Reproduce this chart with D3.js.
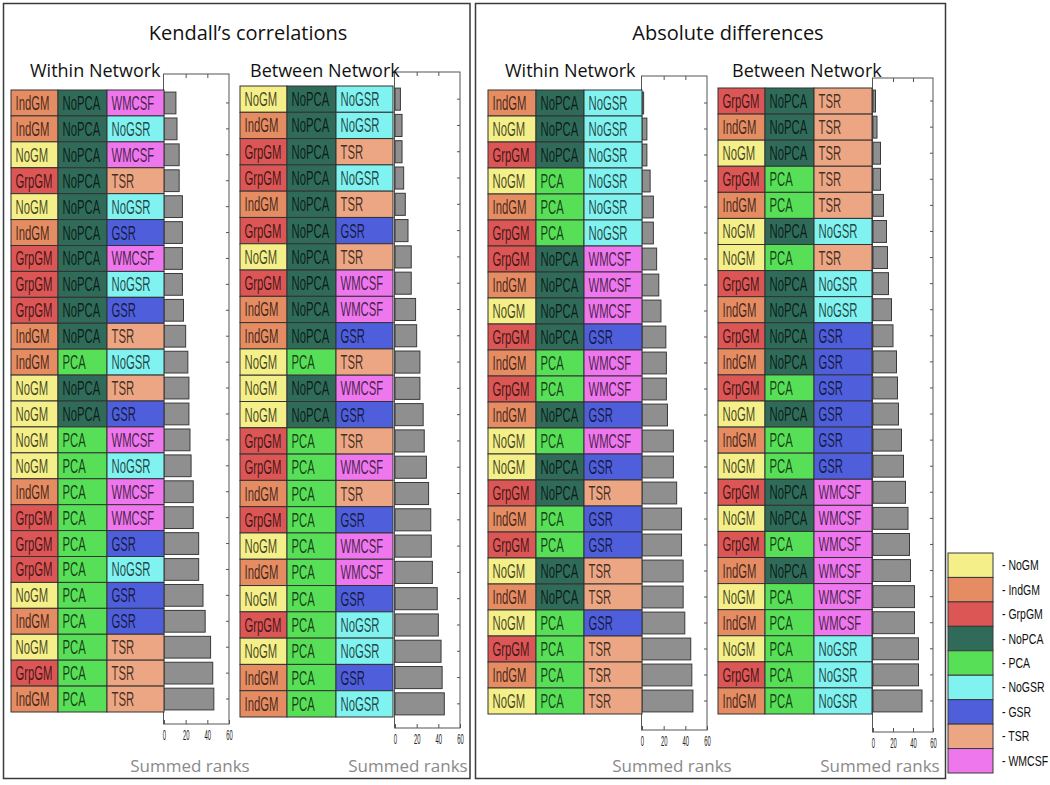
<!DOCTYPE html>
<html><head><meta charset="utf-8">
<script src="https://cdn.jsdelivr.net/npm/d3@7"></script>
<style>body{margin:0;background:#fff}svg{display:block}</style>
</head><body>
<svg id="c" width="1050" height="785"></svg>
<script>
// ---------- DATA ----------
const legendLabels = ["NoGM","IndGM","GrpGM","NoPCA","PCA","NoGSR","GSR","TSR","WMCSF"];
const legendColors = ["#f4ef88","#e68c63","#dc5656","#2f6b58","#58df58","#80f2f0","#4f5fdc","#eca683","#ee77ee"];
const xTicks = [0,20,40,60];

// Kendall's correlations – Within Network
const kcWithinGM  = ["IndGM","IndGM","NoGM","GrpGM","NoGM","IndGM","GrpGM","GrpGM","GrpGM","IndGM","IndGM","NoGM","NoGM","NoGM","NoGM","IndGM","GrpGM","GrpGM","GrpGM","NoGM","IndGM","NoGM","GrpGM","IndGM"];
const kcWithinPCA = ["NoPCA","NoPCA","NoPCA","NoPCA","NoPCA","NoPCA","NoPCA","NoPCA","NoPCA","NoPCA","PCA","NoPCA","NoPCA","PCA","PCA","PCA","PCA","PCA","PCA","PCA","PCA","PCA","PCA","PCA"];
const kcWithinGSR = ["WMCSF","NoGSR","WMCSF","TSR","NoGSR","GSR","WMCSF","NoGSR","GSR","TSR","NoGSR","TSR","GSR","WMCSF","NoGSR","WMCSF","WMCSF","GSR","NoGSR","GSR","GSR","TSR","TSR","TSR"];
const kcWithinRanks = [11,12,14,14,17,17,17,17,18,20,22,23,23,24,25,27,27,32,32,36,38,43,45,46];

// Kendall's correlations – Between Network
const kcBetweenGM  = ["NoGM","IndGM","GrpGM","GrpGM","IndGM","GrpGM","NoGM","GrpGM","IndGM","IndGM","NoGM","NoGM","NoGM","GrpGM","GrpGM","IndGM","GrpGM","NoGM","IndGM","NoGM","GrpGM","NoGM","IndGM","IndGM"];
const kcBetweenPCA = ["NoPCA","NoPCA","NoPCA","NoPCA","NoPCA","NoPCA","NoPCA","NoPCA","NoPCA","NoPCA","PCA","NoPCA","NoPCA","PCA","PCA","PCA","PCA","PCA","PCA","PCA","PCA","PCA","PCA","PCA"];
const kcBetweenGSR = ["NoGSR","NoGSR","TSR","NoGSR","TSR","GSR","TSR","WMCSF","WMCSF","GSR","TSR","WMCSF","GSR","TSR","WMCSF","TSR","GSR","WMCSF","WMCSF","GSR","NoGSR","NoGSR","GSR","NoGSR"];
const kcBetweenRanks = [5,6.5,6.5,8,9.5,12,15,15,19,20,23,23,26,27,29,31,33,33.5,34.5,39,40,42.5,43.5,45.5];

// Absolute differences – Within Network
const adWithinGM  = ["IndGM","NoGM","GrpGM","NoGM","IndGM","GrpGM","GrpGM","IndGM","NoGM","GrpGM","IndGM","GrpGM","IndGM","NoGM","NoGM","GrpGM","IndGM","GrpGM","NoGM","IndGM","NoGM","GrpGM","IndGM","NoGM"];
const adWithinPCA = ["NoPCA","NoPCA","NoPCA","PCA","PCA","PCA","NoPCA","NoPCA","NoPCA","NoPCA","PCA","PCA","NoPCA","PCA","NoPCA","NoPCA","PCA","PCA","NoPCA","NoPCA","PCA","PCA","PCA","PCA"];
const adWithinGSR = ["NoGSR","NoGSR","NoGSR","NoGSR","NoGSR","NoGSR","WMCSF","WMCSF","WMCSF","GSR","WMCSF","WMCSF","GSR","WMCSF","GSR","TSR","GSR","GSR","TSR","TSR","GSR","TSR","TSR","TSR"];
const adWithinRanks = [1.5,4.5,4.5,7.5,10.5,10.5,13.5,15.5,17.5,22,22.5,22.5,23.5,29,29,32,36.5,36.5,38,38,39.5,45,46,47];

// Absolute differences – Between Network
const adBetweenGM  = ["GrpGM","IndGM","NoGM","GrpGM","IndGM","NoGM","NoGM","GrpGM","IndGM","GrpGM","IndGM","GrpGM","NoGM","IndGM","NoGM","GrpGM","NoGM","GrpGM","IndGM","NoGM","IndGM","NoGM","GrpGM","IndGM"];
const adBetweenPCA = ["NoPCA","NoPCA","NoPCA","PCA","PCA","NoPCA","PCA","NoPCA","NoPCA","NoPCA","NoPCA","PCA","NoPCA","PCA","PCA","NoPCA","NoPCA","PCA","NoPCA","PCA","PCA","PCA","PCA","PCA"];
const adBetweenGSR = ["TSR","TSR","TSR","TSR","TSR","NoGSR","TSR","NoGSR","NoGSR","GSR","GSR","GSR","GSR","GSR","GSR","WMCSF","WMCSF","WMCSF","WMCSF","WMCSF","WMCSF","NoGSR","NoGSR","NoGSR"];
const adBetweenRanks = [2.5,4,7.5,7.5,10.5,13.5,14.5,15.5,18.5,20,23.5,24.5,25.5,28.5,30.5,32.5,35,36.5,37.5,41.5,41.5,45.5,45.5,49];

// ---------- LAYOUT ----------
const svg = d3.select("#c");
const color = d3.scaleOrdinal().domain(legendLabels).range(legendColors);

const groups = [
  {title:"Kendall\u2019s correlations", cx:248, box:[3.5,3.5,466.5,775]},
  {title:"Absolute differences", cx:728, box:[475.5,3.5,470,775]}
];
groups.forEach(g=>{
  svg.append("rect").attr("x",g.box[0]).attr("y",g.box[1]).attr("width",g.box[2]).attr("height",g.box[3])
    .attr("fill","none").attr("stroke","#3a3a3a").attr("stroke-width",1.5);
  svg.append("text").attr("x",g.cx).attr("y",40).attr("text-anchor","middle")
    .attr("font-family","Open Sans").attr("font-size",20).attr("fill","#111").text(g.title);
});

const panels = [
  {gm:kcWithinGM, pca:kcWithinPCA, gsr:kcWithinGSR, ranks:kcWithinRanks, head:"Within Network", headX:30,
   cols:[11,58,107,164], rowTop:90, rowBottom:712, xr:[164,229], boxTop:74, boxBottom:724, labelCx:190},
  {gm:kcBetweenGM, pca:kcBetweenPCA, gsr:kcBetweenGSR, ranks:kcBetweenRanks, head:"Between Network", headX:250,
   cols:[240,287,336,393], rowTop:86, rowBottom:717, xr:[395,460], boxTop:72, boxBottom:728, labelCx:408},
  {gm:adWithinGM, pca:adWithinPCA, gsr:adWithinGSR, ranks:adWithinRanks, head:"Within Network", headX:505,
   cols:[488,536,584,642], rowTop:90, rowBottom:714, xr:[642,707], boxTop:76, boxBottom:730, labelCx:672},
  {gm:adBetweenGM, pca:adBetweenPCA, gsr:adBetweenGSR, ranks:adBetweenRanks, head:"Between Network", headX:732,
   cols:[718,765,814,872], rowTop:88, rowBottom:714, xr:[873,933], boxTop:78, boxBottom:732, labelCx:880}
];

panels.forEach(p=>{
  const n = p.ranks.length;
  const x = d3.scaleLinear().domain([0,60]).range(p.xr);
  const y = d3.scaleBand().domain(d3.range(n)).range([p.rowTop,p.rowBottom]);
  const yb = d3.scaleBand().domain(d3.range(n)).range([p.rowTop,p.rowBottom]).paddingInner(0.16).paddingOuter(0.08);
  const g = svg.append("g");

  // axes box
  g.append("rect").attr("x",p.xr[0]-0.5).attr("y",p.boxTop).attr("width",p.xr[1]-p.xr[0]+0.5)
    .attr("height",p.boxBottom-p.boxTop).attr("fill","#fff").attr("stroke","#555").attr("stroke-width",1);

  // header
  g.append("text").attr("x",p.headX).attr("y",77).attr("font-family","Open Sans").attr("font-size",18)
    .attr("fill","#111").text(p.head);

  // bottom axis
  const bax = g.append("g").attr("transform",`translate(0,${p.boxBottom})`)
    .call(d3.axisBottom(x).tickValues(xTicks).tickSize(-4).tickSizeOuter(0).tickPadding(6));
  bax.select(".domain").remove();
  bax.selectAll(".tick line").attr("stroke","#555");
  bax.selectAll(".tick text").attr("font-family","Liberation Sans").attr("font-size",14).attr("fill","#222")
    .attr("transform","scale(0.42,1)");
  // top axis ticks
  const tax = g.append("g").attr("transform",`translate(0,${p.boxTop})`)
    .call(d3.axisTop(x).tickValues([20,40]).tickSize(-4).tickSizeOuter(0).tickFormat(""));
  tax.select(".domain").remove();
  tax.selectAll(".tick line").attr("stroke","#555");
  // right axis row ticks
  const rax = g.append("g").attr("transform",`translate(${p.xr[1]},0)`)
    .call(d3.axisLeft(y).tickSize(3).tickSizeOuter(0).tickFormat(""));
  rax.select(".domain").remove();
  rax.selectAll(".tick line").attr("stroke","#555");

  // bars
  g.selectAll("rect.bar").data(p.ranks).join("rect").attr("class","bar")
    .attr("x",x(0)).attr("y",(d,i)=>yb(i)).attr("width",d=>x(d)-x(0)).attr("height",yb.bandwidth())
    .attr("fill","#8f8f8f").attr("stroke","#3a3a3a").attr("stroke-width",1);

  // table cells
  const cols = [p.gm,p.pca,p.gsr];
  cols.forEach((arr,ci)=>{
    const cx0 = p.cols[ci], cw = p.cols[ci+1]-p.cols[ci];
    const cg = g.append("g");
    cg.selectAll("rect").data(arr).join("rect")
      .attr("x",cx0).attr("y",(d,i)=>y(i)).attr("width",cw).attr("height",y.bandwidth())
      .attr("fill",d=>color(d)).attr("stroke","#333").attr("stroke-width",1);
    cg.selectAll("text").data(arr).join("text")
      .attr("transform",(d,i)=>`translate(${cx0+4.5},${y(i)+y.bandwidth()/2+7}) scale(0.58,1)`)
      .attr("font-family","Liberation Sans").attr("font-size",19.5)
      .attr("fill","#000").attr("fill-opacity",0.72).text(d=>d);
  });

  // x label
  g.append("text").attr("x",p.labelCx).attr("y",772).attr("text-anchor","middle")
    .attr("font-family","Open Sans").attr("font-size",17).attr("fill","#8a8a8a").text("Summed ranks");
});

// legend
const ly = d3.scaleBand().domain(legendLabels).range([553,773]);
const lg = svg.append("g");
lg.selectAll("rect").data(legendLabels).join("rect")
  .attr("x",948).attr("y",d=>ly(d)).attr("width",45).attr("height",ly.bandwidth())
  .attr("fill",d=>color(d)).attr("stroke","#3a3a3a").attr("stroke-width",1);
lg.selectAll("text").data(legendLabels).join("text")
  .attr("transform",d=>`translate(1002,${ly(d)+ly.bandwidth()/2+5}) scale(0.7,1)`)
  .attr("font-family","Liberation Sans").attr("font-size",15).attr("fill","#111").text(d=>"- "+d);
</script>
</body></html>
